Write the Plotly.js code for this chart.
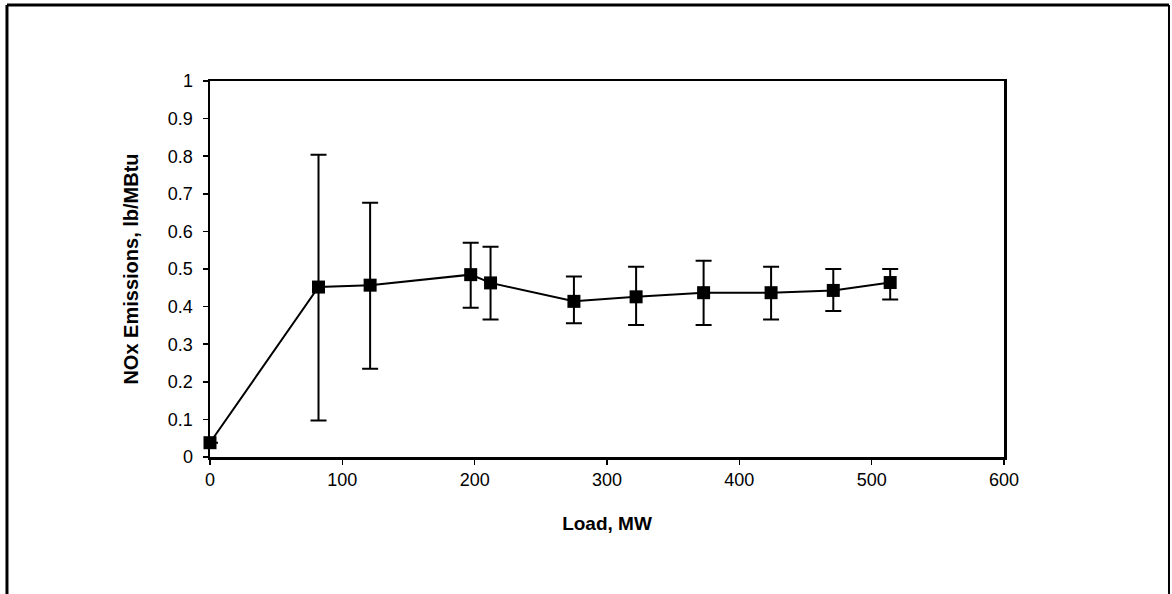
<!DOCTYPE html>
<html>
<head>
<meta charset="utf-8">
<script src="https://cdn.plot.ly/plotly-3.0.1.min.js"></script>
<style>html,body{margin:0;padding:0;background:#fff;}#chart{width:1172px;height:594px;}</style>
</head>
<body>
<div id="chart"></div>
<script>
// Data
var loadMW = [0, 82, 121, 197, 212, 275, 322, 373, 424, 471, 514];
var noxMean = [0.038, 0.452, 0.457, 0.485, 0.463, 0.414, 0.426, 0.437, 0.437, 0.443, 0.464];
var noxHigh = [null, 0.804, 0.676, 0.570, 0.559, 0.480, 0.506, 0.522, 0.506, 0.500, 0.500];
var noxLow  = [null, 0.097, 0.235, 0.397, 0.366, 0.356, 0.351, 0.351, 0.366, 0.388, 0.419];
var xTicks = [0, 100, 200, 300, 400, 500, 600];
var yTicks = [0, 0.1, 0.2, 0.3, 0.4, 0.5, 0.6, 0.7, 0.8, 0.9, 1];
var yTickText = ['0', '0.1', '0.2', '0.3', '0.4', '0.5', '0.6', '0.7', '0.8', '0.9', '1'];

var errPlus = noxHigh.map(function (h, i) { return h === null ? 0 : h - noxMean[i]; });
var errMinus = noxLow.map(function (l, i) { return l === null ? 0 : noxMean[i] - l; });

var trace = {
  x: loadMW,
  y: noxMean,
  type: 'scatter',
  mode: 'lines+markers',
  line: {color: '#000', width: 2},
  marker: {symbol: 'square', size: 13, color: '#000'},
  error_y: {
    type: 'data',
    symmetric: false,
    array: errPlus,
    arrayminus: errMinus,
    color: '#000',
    thickness: 2,
    width: 8
  },
  showlegend: false,
  cliponaxis: false
};

var fam = 'Arial, "Liberation Sans", sans-serif';

var layout = {
  width: 1172,
  height: 594,
  margin: {l: 210, r: 168, t: 81, b: 137},
  paper_bgcolor: '#fff',
  plot_bgcolor: '#fff',
  font: {family: fam, color: '#000', size: 18},
  showlegend: false,
  xaxis: {
    range: [0, 600],
    tickvals: xTicks,
    ticktext: xTicks.map(String),
    ticks: 'outside',
    ticklen: 5,
    tickwidth: 1.5,
    tickcolor: '#000',
    showline: true,
    linecolor: '#000',
    linewidth: 2.5,
    mirror: true,
    showgrid: false,
    zeroline: false,
    tickfont: {family: fam, size: 18, color: '#000'},
    title: {text: '<b>Load, MW</b>', font: {family: fam, size: 19, color: '#000'}, standoff: 28}
  },
  yaxis: {
    range: [0, 1],
    tickvals: yTicks,
    ticktext: yTickText,
    ticks: 'outside',
    ticklen: 5,
    tickwidth: 1.5,
    tickcolor: '#000',
    ticklabelstandoff: 6,
    showline: true,
    linecolor: '#000',
    linewidth: 2.5,
    mirror: true,
    showgrid: false,
    zeroline: false,
    tickfont: {family: fam, size: 18, color: '#000'},
    title: {text: '<b>NOx Emissions, lb/MBtu</b>', font: {family: fam, size: 20, color: '#000'}, standoff: 24}
  },
  shapes: [
    {type: 'line', xref: 'paper', yref: 'paper', x0: -0.2557, x1: -0.2557, y0: -0.40, y1: 1.2021, line: {color: '#000', width: 3}},
    {type: 'line', xref: 'paper', yref: 'paper', x0: -0.2557, x1: 1.2078, y0: 1.2021, y1: 1.2021, line: {color: '#000', width: 3}},
    {type: 'line', xref: 'paper', yref: 'paper', x0: 1.2078, x1: 1.2078, y0: -0.40, y1: 1.2021, line: {color: '#000', width: 2}}
  ]
};

Plotly.newPlot('chart', [trace], layout, {displayModeBar: false, staticPlot: true});
</script>
</body>
</html>
